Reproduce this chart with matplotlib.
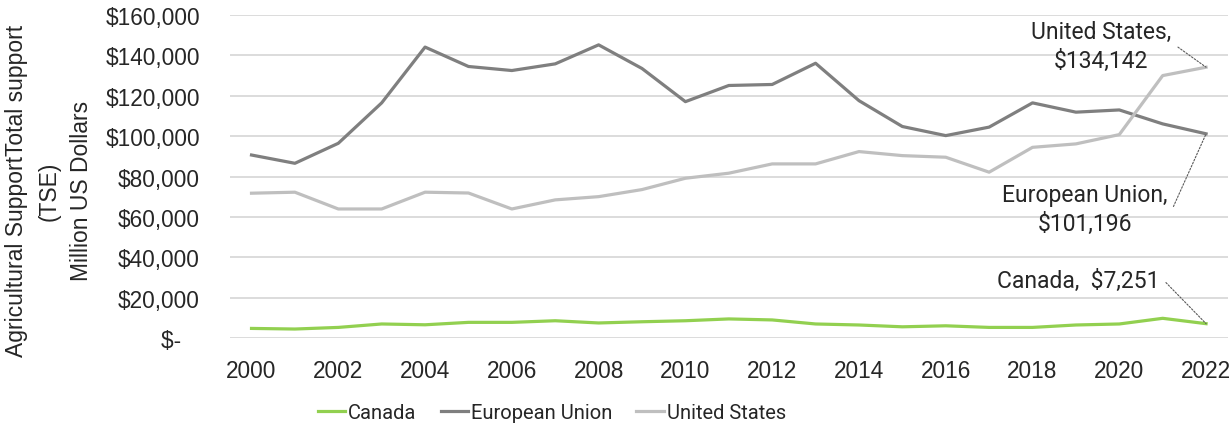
"""Agricultural total support estimate (TSE): Canada, EU and US, 2000-2022."""

import matplotlib
matplotlib.use("Agg")
import matplotlib.pyplot as plt
from matplotlib.ticker import FuncFormatter

years = list(range(2000, 2023))
canada = [4900, 4600, 5400, 7100, 6700, 7900, 7900, 8700, 7600, 8200, 8700, 9600,
          9100, 7100, 6600, 5700, 6200, 5400, 5400, 6600, 7100, 9900, 7251]
eu = [90700, 86600, 96500, 116500, 144100, 134500, 132500, 135800, 145200, 133500,
      117100, 125100, 125600, 136100, 117600, 104800, 100300, 104500, 116500, 111900,
      113000, 106100, 101196]
us = [71800, 72300, 64000, 64000, 72300, 71900, 64000, 68500, 70100, 73600, 79200,
      81700, 86300, 86300, 92400, 90400, 89600, 82200, 94500, 96200, 100800, 130000,
      134142]

series_names = ["Canada", "European Union", "United States"]
series_colors = ["#92D050", "#7F7F7F", "#BFBFBF"]

y_label = "Agricultural SupportTotal support\n(TSE)\nMillion US Dollars"

NARROW = ["Roboto", "DejaVu Sans"]
plt.rcParams["font.family"] = ["Liberation Sans", "DejaVu Sans"]


def money(v, _pos):
    if v == 0:
        return "$-   "
    return f"${v:,.0f}"


def main():
    fig = plt.figure(figsize=(12.29, 4.31), dpi=100)
    ax = fig.add_axes([0.187, 0.2127, 0.812, 0.7503])

    for vals, name, color in zip([canada, eu, us], series_names, series_colors):
        ax.plot(years, vals, color=color, lw=2.3, label=name, solid_joinstyle="round")

    ax.set_xlim(1999.5, 2022.5)
    ax.set_ylim(0, 160000)
    ax.set_yticks(range(0, 160001, 20000))
    ax.set_xticks(years[::2])
    ax.yaxis.set_major_formatter(FuncFormatter(money))
    ax.tick_params(axis="both", length=0, labelsize=16.3, colors="#262626")
    ax.tick_params(axis="y", pad=21.5)
    ax.tick_params(axis="x", pad=15)
    ax.grid(axis="y", color="#D9D9D9", lw=1.3)
    ax.set_axisbelow(True)
    for spine in ax.spines.values():
        spine.set_visible(False)

    fig.text(0.04, 0.557, y_label, rotation=90, ha="center", va="center",
             fontsize=16.5, color="#262626", linespacing=1.52)

    # end-of-line callouts with short dotted leader lines
    label_kw = dict(ha="center", va="center", fontsize=16.5, color="#262626",
                    family=NARROW, linespacing=1.35)
    leader = dict(arrowstyle="-", color="#595959", lw=0.8, ls=(0, (1.5, 1.5)),
                  relpos=(1, 0.5), shrinkA=3, shrinkB=0,
                  connectionstyle="arc,angleA=0,armA=5,angleB=0,armB=0,rad=0")
    ax.annotate(f"United States,\n${us[-1]:,.0f}", xy=(years[-1], us[-1]),
                xytext=(2019.58, 144700), arrowprops=leader, **label_kw)
    ax.annotate(f"European Union,\n${eu[-1]:,.0f}", xy=(years[-1], eu[-1]),
                xytext=(2019.2, 64000), arrowprops=leader, **label_kw)
    ax.annotate(f"Canada,  ${canada[-1]:,.0f}", xy=(years[-1], canada[-1]),
                xytext=(2019.05, 28400), arrowprops=leader, **label_kw)

    fig.legend(loc="center", bbox_to_anchor=(0.449, 0.04), ncol=3, frameon=False,
               handlelength=1.35, handletextpad=0.15, columnspacing=1.2,
               prop={"family": NARROW, "size": 14.5}, labelcolor="#262626")

    fig.savefig("out.png", dpi=100)
    plt.close(fig)


if __name__ == "__main__":
    main()
